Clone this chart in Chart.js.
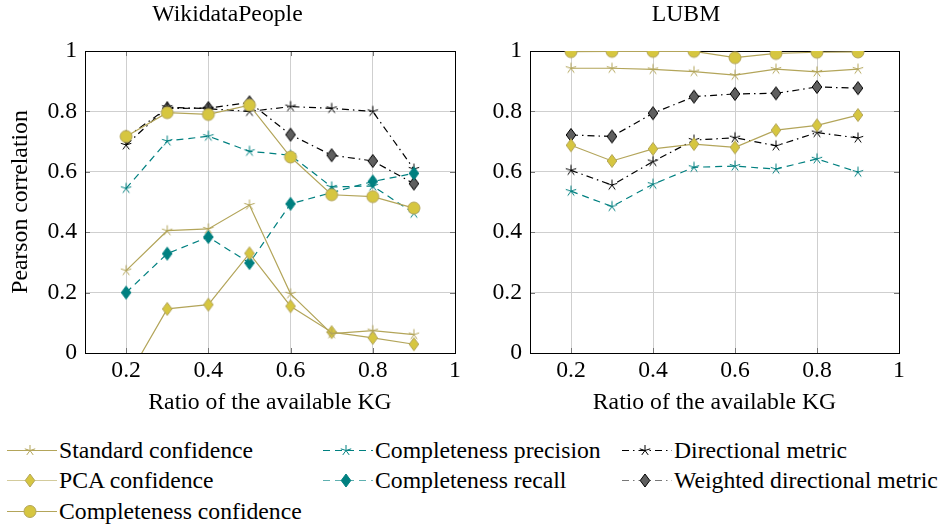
<!DOCTYPE html>
<html>
<head>
<meta charset="utf-8">
<script src="https://cdn.jsdelivr.net/npm/chart.js@4.4.0/dist/chart.umd.min.js"></script>
<style>
  body { margin: 0; background: #fff; }
  #wrap { position: relative; width: 946px; height: 526px; font-family: "Liberation Serif", "Times New Roman", Times, "DejaVu Serif", serif; }
  #wrap > canvas { position: absolute; top: 0; }
  .key { position: absolute; height: 30px; line-height: 30px; font-size: 23.7px; color: #000; white-space: nowrap; }
  .key canvas { position: absolute; top: 5px; }
</style>
</head>
<body>
<div id="wrap">
  <canvas id="wiki" width="473" height="430" style="left:0"></canvas>
  <canvas id="lubm" width="473" height="430" style="left:473px"></canvas>
  <div id="legend"></div>
</div>
<script>
const ratios = [0.2, 0.3, 0.4, 0.5, 0.6, 0.7, 0.8, 0.9]
const xTicks = [0.2, 0.4, 0.6, 0.8, 1]
const yTicks = [0, 0.2, 0.4, 0.6, 0.8, 1]

// WikidataPeople
const wikiStandard = [0.273, 0.405, 0.411, 0.490, 0.196, 0.064, 0.074, 0.061]
const wikiPca = [-0.09, 0.146, 0.160, 0.330, 0.155, 0.069, 0.050, 0.029]
const wikiCompConf = [0.717, 0.796, 0.790, 0.821, 0.649, 0.524, 0.518, 0.480]
const wikiPrecision = [0.545, 0.702, 0.718, 0.668, 0.655, 0.550, 0.553, 0.463]
const wikiRecall = [0.200, 0.329, 0.384, 0.298, 0.494, 0.531, 0.568, 0.595]
const wikiDirectional = [0.689, 0.814, 0.809, 0.800, 0.816, 0.810, 0.800, 0.609]
const wikiWeighted = [0.714, 0.810, 0.811, 0.830, 0.723, 0.655, 0.636, 0.561]

// LUBM
const lubmStandard = [0.943, 0.943, 0.939, 0.932, 0.920, 0.940, 0.931, 0.940]
const lubmPca = [0.688, 0.636, 0.676, 0.692, 0.681, 0.738, 0.754, 0.788]
const lubmCompConf = [0.998, 0.999, 0.999, 0.999, 0.978, 0.992, 0.996, 0.997]
const lubmPrecision = [0.536, 0.485, 0.559, 0.615, 0.619, 0.609, 0.643, 0.599]
const lubmDirectional = [0.605, 0.556, 0.634, 0.705, 0.713, 0.686, 0.730, 0.712]
const lubmWeighted = [0.722, 0.717, 0.794, 0.849, 0.858, 0.860, 0.881, 0.877]

const OLIVE = '#b3a55a', YELLOW = '#d6c640', TEAL = '#008080', GREY = '#5f5f5f'
const DASHED = [7, 5], DASHDOT = [7, 4, 1.5, 4]
const FONT = '"Liberation Serif", "Times New Roman", Times, "DejaVu Serif", serif'

const seriesStyle = {
  standard:    { label: 'Standard confidence', color: OLIVE, dash: [], marker: 'star', fill: OLIVE, stroke: OLIVE, key: OLIVE },
  pca:         { label: 'PCA confidence', color: OLIVE, dash: [], marker: 'diamond', fill: YELLOW, stroke: OLIVE, key: '#d3cb9c' },
  compConf:    { label: 'Completeness confidence', color: OLIVE, dash: [], marker: 'circle', fill: YELLOW, stroke: OLIVE, key: OLIVE },
  precision:   { label: 'Completeness precision', color: TEAL, dash: DASHED, marker: 'star', fill: TEAL, stroke: TEAL, key: TEAL },
  recall:      { label: 'Completeness recall', color: TEAL, dash: DASHED, marker: 'diamond', fill: TEAL, stroke: TEAL, key: '#5fb0b0' },
  directional: { label: 'Directional metric', color: '#000', dash: DASHDOT, marker: 'star', fill: '#000', stroke: '#000', key: '#000' },
  weighted:    { label: 'Weighted directional metric', color: '#000', dash: DASHDOT, marker: 'diamond', fill: GREY, stroke: '#000', key: '#777' }
}

function drawMarker(ctx, kind, cx, cy, fill, stroke) {
  ctx.save()
  ctx.setLineDash([])
  ctx.lineWidth = 1
  ctx.strokeStyle = stroke
  ctx.fillStyle = fill
  ctx.beginPath()
  if (kind === 'star') {
    for (let i = 0; i < 5; i++) {
      const a = -Math.PI / 2 + i * 2 * Math.PI / 5
      ctx.moveTo(cx, cy)
      ctx.lineTo(cx + 5.5 * Math.cos(a), cy + 5.5 * Math.sin(a))
    }
    ctx.stroke()
  } else if (kind === 'diamond') {
    ctx.moveTo(cx, cy - 6.5)
    ctx.lineTo(cx + 4.8, cy)
    ctx.lineTo(cx, cy + 6.5)
    ctx.lineTo(cx - 4.8, cy)
    ctx.closePath()
    ctx.fill()
    ctx.stroke()
  } else {
    ctx.arc(cx, cy, 6, 0, 2 * Math.PI)
    ctx.fill()
    ctx.stroke()
  }
  ctx.restore()
}

function markerImage(kind, fill, stroke) {
  const c = document.createElement('canvas')
  c.width = 16
  c.height = 16
  drawMarker(c.getContext('2d'), kind, 8, 8, fill, stroke)
  return c
}

// black frame and small inward tick marks, like pgfplots
const frame = {
  id: 'frame',
  beforeDatasetsDraw(chart) {
    const { ctx, chartArea: a, scales } = chart
    ctx.save()
    ctx.strokeStyle = '#777'
    ctx.lineWidth = 1
    ctx.beginPath()
    scales.x.ticks.forEach(t => {
      const px = Math.round(scales.x.getPixelForValue(t.value)) + 0.5
      ctx.moveTo(px, a.bottom); ctx.lineTo(px, a.bottom - 5)
      ctx.moveTo(px, a.top); ctx.lineTo(px, a.top + 5)
    })
    scales.y.ticks.forEach(t => {
      const py = Math.round(scales.y.getPixelForValue(t.value)) + 0.5
      ctx.moveTo(a.left, py); ctx.lineTo(a.left + 5, py)
      ctx.moveTo(a.right, py); ctx.lineTo(a.right - 5, py)
    })
    ctx.stroke()
    ctx.strokeStyle = '#000'
    ctx.strokeRect(Math.round(a.left) + 0.5, Math.round(a.top) + 0.5, Math.round(a.right - a.left), Math.round(a.bottom - a.top))
    ctx.restore()
  }
}

function buildChart(id, title, sets, yTitle, yWidth, padRight) {
  const datasets = sets.map(([key, values]) => {
    const s = seriesStyle[key]
    return {
      label: s.label,
      data: ratios.map((r, i) => ({ x: r, y: values[i] })),
      borderColor: s.color,
      borderWidth: 1.2,
      borderDash: s.dash,
      pointStyle: markerImage(s.marker, s.fill, s.stroke),
      pointRadius: 6,
      tension: 0,
      fill: false
    }
  })
  const tickFont = { family: FONT, size: 23.7, lineHeight: 1.2 }
  return new Chart(document.getElementById(id), {
    type: 'line',
    data: { datasets: datasets },
    plugins: [frame],
    options: {
      responsive: false,
      animation: false,
      devicePixelRatio: 1,
      layout: { padding: { left: 0, right: padRight, top: 0, bottom: 0 } },
      plugins: {
        legend: { display: false },
        tooltip: { enabled: false },
        title: {
          display: true, text: title, color: '#000',
          font: { family: FONT, size: 23.7, weight: 'normal', lineHeight: 1.2 },
          padding: { top: 1, bottom: 21.6 }
        }
      },
      scales: {
        x: {
          type: 'linear', min: 0.1, max: 1,
          afterBuildTicks: s => { s.ticks = xTicks.map(v => ({ value: v })) },
          afterFit: s => { s.height = 77 },
          ticks: { color: '#000', font: tickFont, padding: 4, maxRotation: 0, callback: v => String(v) },
          grid: { color: '#cfcfcf', drawTicks: false },
          border: { display: false },
          title: { display: true, text: 'Ratio of the available KG', color: '#000', font: { family: FONT, size: 23.7, lineHeight: 1.2 }, padding: { top: 0, bottom: 13 } }
        },
        y: {
          min: 0, max: 1,
          afterBuildTicks: s => { s.ticks = yTicks.map(v => ({ value: v })) },
          afterFit: s => { s.width = yWidth },
          ticks: { color: '#000', font: tickFont, padding: 8, callback: v => String(v) },
          grid: { color: '#cfcfcf', drawTicks: false },
          border: { display: false },
          title: { display: yTitle, text: 'Pearson correlation', color: '#000', font: { family: FONT, size: 23.7, lineHeight: 1.2 }, padding: { top: 7, bottom: 0 } }
        }
      }
    }
  })
}

buildChart('wiki', 'WikidataPeople', [
  ['standard', wikiStandard], ['pca', wikiPca], ['compConf', wikiCompConf],
  ['precision', wikiPrecision], ['recall', wikiRecall],
  ['directional', wikiDirectional], ['weighted', wikiWeighted]
], true, 85, 18)

buildChart('lubm', 'LUBM', [
  ['standard', lubmStandard], ['pca', lubmPca], ['compConf', lubmCompConf],
  ['precision', lubmPrecision],
  ['directional', lubmDirectional], ['weighted', lubmWeighted]
], false, 57, 47)

// legend: three columns below both plots
const legendSlots = [
  ['standard', 7, 435], ['pca', 7, 465], ['compConf', 7, 496],
  ['precision', 323, 435], ['recall', 323, 465],
  ['directional', 622, 435], ['weighted', 622, 465]
]
const legendBox = document.getElementById('legend')
legendSlots.forEach(([key, x, y]) => {
  const s = seriesStyle[key]
  const row = document.createElement('div')
  row.className = 'key'
  row.style.left = x + 'px'
  row.style.top = y + 'px'
  const icon = document.createElement('canvas')
  icon.width = 50
  icon.height = 20
  icon.style.left = '0px'
  const ctx = icon.getContext('2d')
  ctx.strokeStyle = s.key
  ctx.lineWidth = 1.2
  ctx.setLineDash(s.dash.length ? s.dash : [])
  ctx.beginPath()
  ctx.moveTo(0, 10.5)
  ctx.lineTo(50, 10.5)
  ctx.stroke()
  drawMarker(ctx, s.marker, 23, 10.5, s.fill, s.stroke)
  const label = document.createElement('span')
  label.textContent = s.label
  label.style.marginLeft = '52px'
  row.appendChild(icon)
  row.appendChild(label)
  legendBox.appendChild(row)
})
</script>
</body>
</html>
